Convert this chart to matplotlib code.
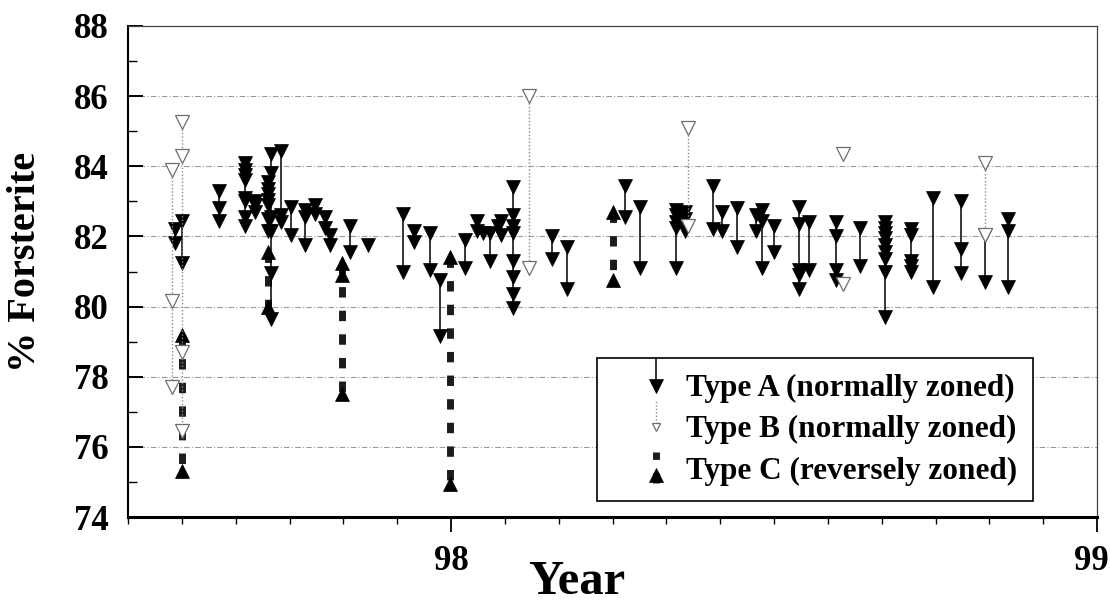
import matplotlib
matplotlib.use('Agg')
import matplotlib.pyplot as plt
import matplotlib.transforms as mtransforms
from matplotlib.lines import Line2D
from matplotlib.legend_handler import HandlerBase
from matplotlib.ticker import MultipleLocator

plt.rcParams['font.family'] = ['Liberation Serif', 'DejaVu Serif']
plt.rcParams['font.weight'] = 'bold'

# Olivine crystals: eruption date (decimal year) and Fo content from core to rim
type_a_year = [97.572, 97.583, 97.641, 97.681, 97.697, 97.717, 97.722, 97.737,
               97.752, 97.774, 97.789, 97.805, 97.812, 97.844, 97.872, 97.926,
               97.942, 97.967, 97.983, 98.022, 98.040, 98.050, 98.060, 98.073,
               98.078, 98.096, 98.156, 98.179, 98.269, 98.292, 98.349, 98.362,
               98.406, 98.419, 98.442, 98.472, 98.482, 98.500, 98.539, 98.554,
               98.596, 98.633, 98.672, 98.712, 98.746, 98.790, 98.827, 98.863]
type_a_fo = [
    [82.2, 81.8], [82.45, 81.25], [83.3, 82.8, 82.45],
    [84.1, 83.9, 83.75, 83.6, 83.1, 83.0, 82.55, 82.3], [83.0, 82.9, 82.7],
    [83.55, 83.35, 83.2, 83.05, 82.9, 82.5, 82.15],
    [84.35, 83.8, 82.55, 82.15, 80.95, 79.65], [84.45, 82.6, 82.4],
    [82.85, 82.05], [82.75, 82.55, 81.75], [82.9, 82.65], [82.55, 82.25],
    [82.05, 81.75], [82.3, 81.55], [81.75], [82.65, 81.0], [82.15, 81.85],
    [82.1, 81.05], [80.75, 79.15], [81.9, 81.1], [82.45, 82.15], [82.1],
    [82.1, 81.3], [82.3], [82.45, 82.05],
    [83.4, 82.6, 82.3, 82.1, 81.3, 80.85, 80.35, 79.95],
    [82.0, 81.35], [81.7, 80.5], [83.45, 82.55], [82.85, 81.1],
    [82.75, 82.6, 82.4, 82.25, 81.1], [82.7, 82.5, 82.15], [83.45, 82.2],
    [82.7, 82.15], [82.8, 81.7], [82.6, 82.15], [82.75, 82.45, 81.1],
    [82.3, 81.55], [82.85, 82.35, 81.05, 80.9, 80.5], [82.4, 81.05],
    [82.4, 82.0, 81.05, 80.75], [82.25, 81.15],
    [82.4, 82.25, 82.1, 81.95, 81.75, 81.55, 81.35, 81.0, 79.7],
    [82.2, 82.05, 81.3, 81.15, 81.0], [83.1, 80.55], [83.0, 81.65, 80.95],
    [82.05, 80.7], [82.5, 82.15, 80.55],
]

type_b_year = [97.568, 97.583, 98.120, 98.367, 98.607, 98.607, 98.827]
type_b_fo = [[83.9, 80.15, 77.7], [85.25, 84.3, 78.7, 76.45], [86.0, 81.1],
             [85.1, 82.3], [84.35], [80.65], [84.1, 82.05]]

type_c_year = [97.583, 97.717, 97.831, 97.998, 98.251]
type_c_fo = [[79.2, 75.3], [81.55, 80.0], [81.25, 80.9, 77.5], [81.4, 74.95],
             [82.7, 80.75]]

legend_labels = ['Type A (normally zoned)', 'Type B (normally zoned)',
                 'Type C (reversely zoned)']

STYLE_A = dict(color='black', lw=1.1, ls='-', marker='v', ms=9.5,
               mfc='black', mec='black', mew=0.5)
STYLE_B = dict(color='#8a8a8a', lw=1.0, ls=(0, (1, 1.5)), marker='v', ms=9.5,
               mfc='white', mec='#6e6e6e', mew=0.9)
STYLE_C = dict(color='#1c1c1c', lw=5.0, ls=(0, (1.5, 1.9)), marker='^', ms=9.5,
               mfc='black', mec='black', mew=0.5, dash_capstyle='butt')


class StemHandler(HandlerBase):
    """Legend key drawn as a short vertical stem with its marker."""

    def __init__(self, style, up=False, ms=None):
        super().__init__()
        self.style = style
        self.up = up
        self.ms = ms

    def create_artists(self, legend, orig_handle, xdescent, ydescent,
                       width, height, fontsize, trans):
        cx = 0.7 * width - xdescent
        ymid = 0.45 * height - ydescent
        line_kw = {k: self.style[k] for k in ('color', 'lw', 'ls')}
        if self.up:
            stem = Line2D([cx, cx], [ymid - 10, ymid + 12], transform=trans,
                          dash_capstyle='butt', **line_kw)
            mark_y = ymid - 4
        else:
            stem = Line2D([cx, cx], [ymid, ymid + 20], transform=trans, **line_kw)
            mark_y = ymid
        mark = Line2D([cx], [mark_y], transform=trans, ls='none',
                      marker=self.style['marker'],
                      ms=self.ms or self.style['ms'],
                      mfc=self.style['mfc'], mec=self.style['mec'],
                      mew=self.style['mew'])
        return [stem, mark]


fig = plt.figure(figsize=(11.1, 6.05), dpi=100)
fig.patch.set_facecolor('white')
ax = fig.add_axes([128 / 1110, 1 - 517 / 605, 969 / 1110, 491 / 605])

for yr, fo in zip(type_c_year, type_c_fo):
    ax.plot([yr] * len(fo), fo, zorder=2, **STYLE_C)
for yr, fo in zip(type_a_year, type_a_fo):
    ax.plot([yr] * len(fo), fo, zorder=3, **STYLE_A)
for yr, fo in zip(type_b_year, type_b_fo):
    ax.plot([yr] * len(fo), fo, zorder=4, **STYLE_B)

ax.set_xlim(97.5, 99)
ax.set_ylim(74, 88)
ax.set_xticks([98, 99])
ax.set_xticklabels(['98', '99'])
ax.xaxis.set_minor_locator(MultipleLocator(1 / 12))
ax.set_yticks(range(74, 89, 2))
ax.yaxis.set_minor_locator(MultipleLocator(1))

ax.tick_params(axis='x', which='major', direction='out', length=11, width=1.3,
               pad=9, labelsize=25)
ax.tick_params(axis='x', which='minor', direction='out', length=5, width=1.0)
ax.tick_params(axis='y', which='major', direction='in', length=11, width=1.4,
               pad=14, labelsize=25)
ax.tick_params(axis='y', which='minor', direction='in', length=6.5, width=1.0)

# keep the last year label inside the figure edge
last_label = ax.get_xticklabels()[-1]
last_label.set_transform(last_label.get_transform() +
                         mtransforms.ScaledTranslation(-6 / 100, 0, fig.dpi_scale_trans))

ax.yaxis.grid(True, which='major', color='#9a9a9a', lw=0.8,
              linestyle=(0, (5, 2, 1, 2)))
ax.set_axisbelow(True)

ax.spines['bottom'].set_linewidth(2.2)
ax.spines['left'].set_linewidth(1.5)
for side in ('top', 'right'):
    ax.spines[side].set_linewidth(0.9)
    ax.spines[side].set_color('#444444')

ax.set_xlabel('Year', fontsize=35, fontweight='bold')
ax.xaxis.label.set_va('bottom')
ax.xaxis.set_label_coords(0.463, (517 - 604) / 491)
ax.set_ylabel('% Forsterite', fontsize=29, fontweight='bold')
ax.yaxis.label.set_va('center')
ax.yaxis.set_label_coords((26 - 128) / 969, 0.519)

handles = [Line2D([], [], **STYLE_A), Line2D([], [], **STYLE_B),
           Line2D([], [], **STYLE_C)]
leg = ax.legend(handles, legend_labels,
                handler_map={handles[0]: StemHandler(STYLE_A),
                             handles[1]: StemHandler(STYLE_B, ms=6),
                             handles[2]: StemHandler(STYLE_C, up=True)},
                loc='upper left', bbox_to_anchor=((597 - 128) / 969, (517 - 358) / 491),
                borderaxespad=0, fancybox=False, framealpha=1, edgecolor='black',
                prop={'size': 22.5, 'weight': 'bold'}, handlelength=2.0,
                handletextpad=0.35, labelspacing=0.4, borderpad=0.5)
leg.get_frame().set_linewidth(1.2)

fig.savefig('out.png', dpi=100, facecolor='white')
